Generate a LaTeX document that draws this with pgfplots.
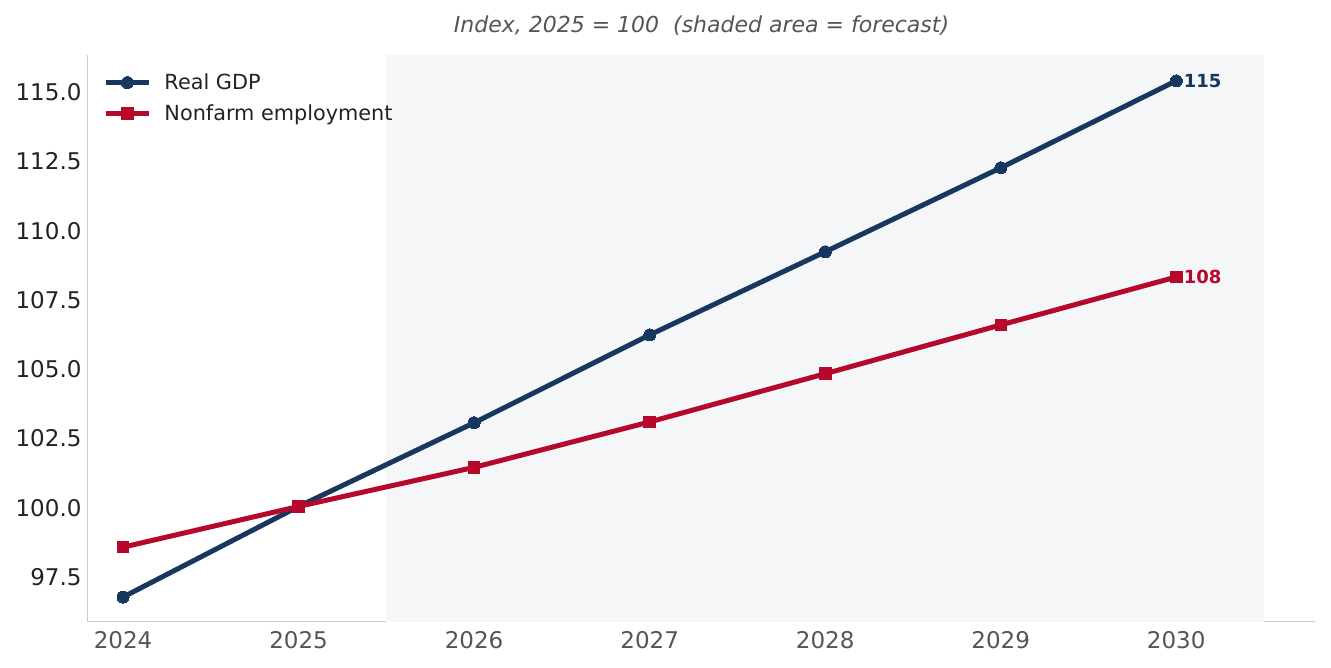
\documentclass[border=0pt]{standalone}
\usepackage{pgfplots}
\pgfplotsset{compat=1.18}
\usepackage{fontspec}
\setmainfont{DejaVu Sans}

\definecolor{gdpblue}{HTML}{17375E}
\definecolor{empred}{HTML}{B5082A}
\definecolor{forecastbg}{HTML}{F4F6F8}
\definecolor{spine}{HTML}{CCCCCC}
\definecolor{ticktext}{HTML}{222222}
\definecolor{xtext}{HTML}{555555}

% Index values, 2025 = 100
\pgfplotstableread{
year  gdp     emp
2024  96.78   98.58
2025  100.05  100.05
2026  103.07  101.46
2027  106.24  103.10
2028  109.24  104.84
2029  112.27  106.60
2030  115.41  108.33
}\indexdata

\begin{document}
\begin{tikzpicture}
\useasboundingbox (-88pt,-46pt) rectangle (1243pt,622pt);
\begin{axis}[
  name=ax,
  at={(0,0)}, anchor=south west,
  scale only axis,
  width=1227pt, height=567pt,
  xmin=2023.8, xmax=2030.79,
  ymin=95.88, ymax=116.34,
  axis x line*=bottom, axis y line*=left,
  axis line style={spine, line width=1pt},
  xtick={2024,...,2030},
  ytick={97.5,100,...,115},
  major tick length=0pt,
  tick label style={font=\fontsize{23}{27}\selectfont},
  xticklabel style={text=xtext, yshift=-6pt},
  yticklabel style={text=ticktext, xshift=-3pt},
  x tick label style={/pgf/number format/1000 sep={}},
  /pgf/number format/assume math mode=true,
  yticklabel={\pgfmathprintnumber[fixed,fixed zerofill,precision=1]{\tick}},
  clip=false,
  title={\fontsize{22}{26}\selectfont\itshape Index, 2025 = 100\ \ (shaded area = forecast)},
  title style={text=xtext, yshift=10pt},
  legend cell align=left,
  legend style={draw=none, fill=none, at={(0.010,0.974)}, anchor=north west,
    font=\fontsize{20.8}{24}\selectfont, text=ticktext, row sep=9.5pt,
    /tikz/every odd column/.append style={column sep=9pt},
    /tikz/every even column/.append style={column sep=0pt},
    nodes={inner xsep=4pt}},
  legend image code/.code={%
    \draw[#1] (0pt,0pt) -- (21.5pt,0pt) -- (43pt,0pt);
    \draw[#1, mark repeat=1, mark phase=1] plot coordinates {(21.5pt,0pt)};},
]
% forecast shading
\addplot[fill=forecastbg, draw=none, forget plot]
  coordinates {(2025.5,95.88) (2030.5,95.88) (2030.5,116.34) (2025.5,116.34)} -- cycle;

\addplot[gdpblue, line width=5pt, mark=*, mark size=6pt, mark options={line width=0pt}]
  table[x=year, y=gdp] {\indexdata};
\addlegendentry{Real GDP}
\addplot[empred, line width=5pt, mark=square*, mark size=5.8pt, mark options={line width=0pt}]
  table[x=year, y=emp] {\indexdata};
\addlegendentry{Nonfarm employment}

% end-point value labels
\addplot[only marks, mark=none, forget plot, point meta=y,
  nodes near coords={\pgfmathprintnumber[fixed,precision=0]{\pgfplotspointmeta}},
  every node near coord/.style={anchor=west, xshift=4pt, text=gdpblue,
    font=\fontsize{18}{21}\bfseries\selectfont}]
  coordinates {(2030,115.41)};
\addplot[only marks, mark=none, forget plot, point meta=y,
  nodes near coords={\pgfmathprintnumber[fixed,precision=0]{\pgfplotspointmeta}},
  every node near coord/.style={anchor=west, xshift=4pt, text=empred,
    font=\fontsize{18}{21}\bfseries\selectfont}]
  coordinates {(2030,108.33)};
\end{axis}
\end{tikzpicture}
\end{document}
